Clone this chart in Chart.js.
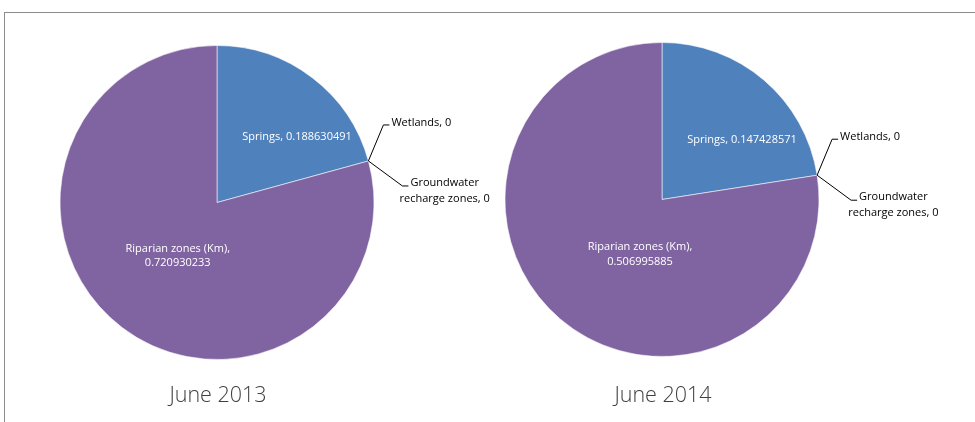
<!DOCTYPE html>
<html>
<head>
<meta charset="utf-8">
<script src="https://cdn.jsdelivr.net/npm/chart.js@4/dist/chart.umd.min.js"></script>
<style>
  html, body { margin: 0; padding: 0; background: #fff; }
  #wrap { position: relative; width: 975px; height: 422px; overflow: hidden; }
  #frame { position: absolute; left: 4px; top: 12px; right: -2px; bottom: -2px;
           border-top: 1px solid #8c8c8c; border-left: 1px solid #8c8c8c; }
  .box { position: absolute; top: 0; height: 422px; }
</style>
</head>
<body>
<div id="wrap">
  <div id="frame"></div>
  <div class="box" style="left:487px;width:488px"><canvas id="c2"></canvas></div>
  <div class="box" style="left:0;width:530px"><canvas id="c1"></canvas></div>
</div>
<script>
// Land-cover categories and their lengths for each survey month
const categories = ['Springs', 'Wetlands', 'Groundwater recharge zones', 'Riparian zones (Km)'];
const periods = ['June 2013', 'June 2014'];
const values2013 = [0.188630491, 0, 0, 0.720930233];
const values2014 = [0.147428571, 0, 0, 0.506995885];

const sliceColors = ['#4f81bd', '#c0504d', '#9bbb59', '#8064a2'];
const labelFont = '11px "Open Sans", sans-serif';

// Splits a category name into the lines used in its label
function labelLines(name, value) {
  if (name === 'Riparian zones (Km)') return [name + ',', String(value)];
  if (name === 'Groundwater recharge zones') return ['Groundwater', 'recharge zones, ' + value];
  return [name + ', ' + value];
}

// Draws slice labels (inside for non-zero slices, leader lines for empty ones) and the caption
const pieLabels = {
  id: 'pieLabels',
  afterDatasetsDraw(chart, args, opts) {
    const ctx = chart.ctx;
    const meta = chart.getDatasetMeta(0);
    const data = chart.data.datasets[0].data;
    ctx.save();
    ctx.font = labelFont;
    ctx.textBaseline = 'middle';
    meta.data.forEach((arc, i) => {
      const { x, y, outerRadius, startAngle } = arc.getProps(['x', 'y', 'outerRadius', 'startAngle'], true);
      const name = chart.data.labels[i];
      const lines = labelLines(name, data[i]);
      if (data[i] > 0) {
        const off = opts.inside[i];
        ctx.fillStyle = '#ffffff';
        ctx.textAlign = 'center';
        const cx = x + off[0] * outerRadius, cy = y + off[1] * outerRadius;
        lines.forEach((t, k) => ctx.fillText(t, cx, cy + (k - (lines.length - 1) / 2) * 14.5));
      } else {
        // edge point where the empty slice sits
        const ex = x + Math.cos(startAngle) * outerRadius;
        const ey = y + Math.sin(startAngle) * outerRadius;
        const lead = opts.leaders[i];
        ctx.strokeStyle = '#000';
        ctx.lineWidth = 1;
        ctx.beginPath();
        ctx.moveTo(ex, ey);
        ctx.lineTo(ex + lead[0], ey + lead[1]);
        ctx.lineTo(ex + lead[0] + 6, ey + lead[1]);
        ctx.stroke();
        ctx.fillStyle = '#000';
        const tx = ex + lead[0] + 8;
        if (lines.length === 1) {
          ctx.textAlign = 'left';
          ctx.fillText(lines[0], tx, ey + lead[1] - 2);
        } else {
          const w0 = ctx.measureText(lines[0]).width;
          const mid = tx + w0 / 2;
          ctx.textAlign = 'center';
          ctx.fillText(lines[0], mid, ey + lead[1] - 3);
          ctx.fillText(lines[1], mid, ey + lead[1] + 13);
        }
      }
    });
    // caption under the pie
    const c = meta.data[0];
    ctx.font = '300 21.5px "Open Sans", sans-serif';
    ctx.fillStyle = '#404040';
    ctx.textAlign = 'center';
    ctx.fillText(opts.caption, c.x + 1, opts.captionY);
    ctx.restore();
  }
};

function makePie(id, values, caption, padding, inside) {
  return new Chart(document.getElementById(id), {
    type: 'pie',
    data: {
      labels: categories,
      datasets: [{
        data: values,
        backgroundColor: sliceColors,
        borderColor: 'rgba(255,255,255,0.55)',
        borderWidth: 1
      }]
    },
    options: {
      responsive: true,
      maintainAspectRatio: false,
      animation: false,
      layout: { padding },
      plugins: {
        legend: { display: false },
        tooltip: { enabled: false },
        pieLabels: {
          caption,
          captionY: 396,
          inside,
          leaders: { 1: [15, -36], 2: [34, 25] }
        }
      }
    },
    plugins: [pieLabels]
  });
}

makePie('c1', values2013, periods[0],
  { left: 59, right: 155, top: 45, bottom: 62 },
  { 0: [0.51, -0.42], 3: [-0.25, 0.34] });
makePie('c2', values2014, periods[1],
  { left: 17, right: 155, top: 42, bottom: 65 },
  { 0: [0.51, -0.38], 3: [-0.14, 0.35] });
</script>
</body>
</html>
